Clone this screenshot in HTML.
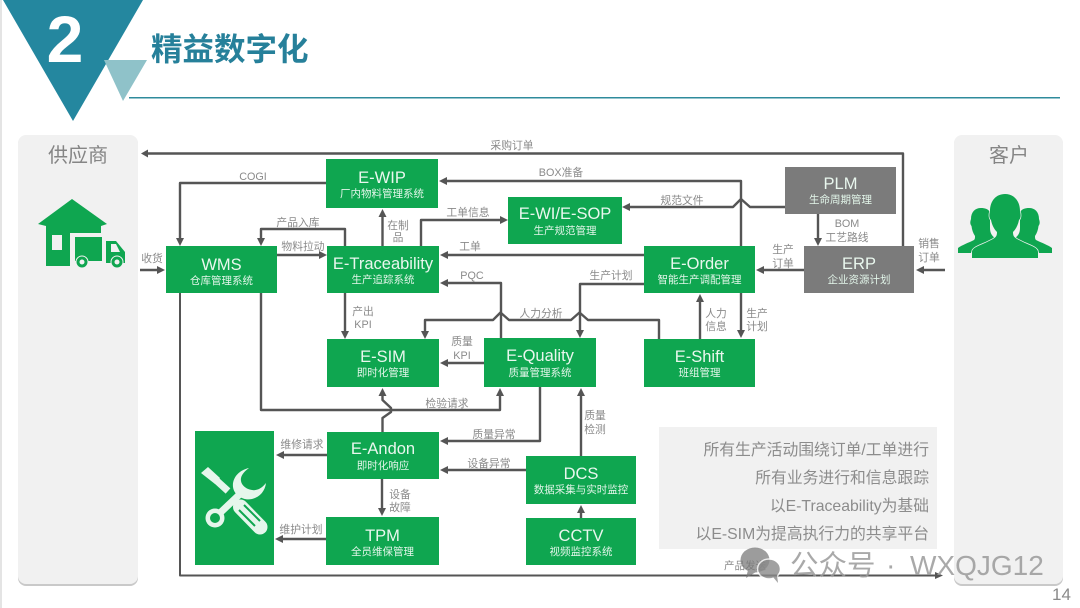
<!DOCTYPE html>
<html lang="zh"><head><meta charset="utf-8"><title>精益数字化</title>
<style>
html,body{margin:0;padding:0;background:#fff;width:1080px;height:608px;overflow:hidden}
svg{display:block;filter:blur(.35px)}
text{font-family:"Liberation Sans","Noto Sans CJK SC",sans-serif}
.t{fill:#e9f7ee;font-size:16.5px;text-anchor:middle}
.s{fill:#e2f5e9;font-size:10.5px;text-anchor:middle}
.l{fill:#8a8a8a;font-size:10.8px;text-anchor:middle}
.c{fill:none;stroke:#555;stroke-width:2.4;stroke-linejoin:round}
.n{fill:#0fa650}
.g{fill:#7b7b7b}
.a{fill:#555}
.note{fill:#8c8c8c;font-size:15.8px;text-anchor:end}
</style></head><body>
<svg width="1080" height="608" viewBox="0 0 1080 608" xmlns="http://www.w3.org/2000/svg">
<rect x="0" y="0" width="2" height="608" fill="#e4e4e4"/>
<!-- header -->
<polygon points="3,0 143,0 73,121" fill="#24879f"/>
<polygon points="104,60 147,60 123,101" fill="#8fc2c9"/>
<rect x="129" y="97" width="931" height="1.5" fill="#2f8b9c"/>
<text x="65" y="62" text-anchor="middle" font-size="66" font-weight="700" fill="#fff">2</text>
<text x="151" y="60" font-size="31.5" font-weight="700" fill="#26809a">精益数字化</text>
<!-- side panels -->
<rect x="18" y="136" width="120" height="450" rx="8" fill="#c9c9c9"/>
<rect x="18" y="135" width="120" height="449" rx="8" fill="#f1f1f1"/>
<rect x="954" y="136" width="109" height="450" rx="8" fill="#c9c9c9"/>
<rect x="954" y="135" width="109" height="449" rx="8" fill="#f1f1f1"/>
<text x="78" y="162" text-anchor="middle" font-size="20" fill="#858585">供应商</text>
<text x="1009" y="162" text-anchor="middle" font-size="20" fill="#858585">客户</text>
<!-- house/truck -->
<g fill="#0fa650">
<path d="M38 224L72 199L107 224L101 226V233H70V266H46V226Z"/>
<rect x="75" y="237" width="27" height="24"/>
<path d="M106 241H116L125 252V263H106Z"/>
<circle cx="82" cy="262" r="6" stroke="#f1f1f1" stroke-width="1"/>
<circle cx="117" cy="262" r="6" stroke="#f1f1f1" stroke-width="1"/>
</g>
<rect x="52" y="235" width="10" height="15" fill="#f1f1f1"/>
<circle cx="82" cy="262" r="2.5" fill="#f1f1f1"/><circle cx="117" cy="262" r="2.5" fill="#f1f1f1"/>
<polygon points="111,244 116,244 120,252 111,252" fill="#f1f1f1"/>
<!-- people -->
<g fill="#0fa650">
<path d="M958 253V248C962 245 968 243 974 240C975 239 975 238 975 236C973 233 972 230 971.500 226C970 224 970 222 971 219C971 212 975 208 981 208C985 208 988 209 990 212V228C990 233 992 236 995 238L983 244C975 248 972 250 971 253Z"/>
<path d="M1052 253V248C1048 245 1042 243 1036 240C1035 239 1035 238 1035 236C1037 233 1038 230 1038.500 226C1040 224 1040 222 1039 219C1039 212 1035 208 1029 208C1025 208 1022 209 1020 212V228C1020 233 1018 236 1015 238L1027 244C1035 248 1038 250 1039 253Z"/>
<path d="M972 258V252C972 248 978 246 985 243L993 239C996 237 997 236 997 232C994 229 992 225 991 220C989 218 989 215 990 211C990 201 996 194 1005 194C1014 194 1020 201 1020 211C1021 215 1021 218 1019 220C1018 225 1016 229 1013 232C1013 236 1014 237 1017 239L1025 243C1032 246 1038 248 1038 252V258Z" stroke="#f1f1f1" stroke-width="1.500" paint-order="stroke"/>
</g>
<!-- connectors -->
<g class="c">
<path d="M903 246V153.500H146"/>
<path d="M326 183H180V242"/>
<path d="M345 246V229H261V242"/>
<path d="M277 255H322"/>
<path d="M140 270H161"/>
<path d="M180 293V575.500H938" style="stroke-width:2"/>
<path d="M261 293V410H500V392"/>
<path d="M382.500 432V418L391 412V408L382.500 400V392"/>
<path d="M382.500 246V213"/>
<path d="M421 246V220H504"/>
<path d="M644 255H444"/>
<path d="M501 338V283H444"/>
<path d="M644 284H580V334"/>
<path d="M741 246V181H443"/>
<path d="M785 207H750L741 199L733 207H626"/>
<path d="M818 214V242"/>
<path d="M804 270H760"/>
<path d="M945 270H920"/>
<path d="M659 339V320H588L579.500 312.500L571 320H509L500.500 312.500L493 320H425V335"/>
<path d="M700 339V298"/>
<path d="M741 293V334"/>
<path d="M484 363H444"/>
<path d="M540 387V441H444"/>
<path d="M581 456V392"/>
<path d="M526 470H444"/>
<path d="M327 455H280"/>
<path d="M326 539H279"/>
<path d="M382 479V512"/>
<path d="M581 518V509"/>
</g>
<!-- arrowheads -->
<g class="a">
<polygon points="141,153.500 148,149.500 148,157.500"/>
<polygon points="180,246 176,238 184,238"/>
<polygon points="261,246 257,238 265,238"/>
<polygon points="327,255 319,251 319,259"/>
<polygon points="165,270 157,266 157,274"/>
<polygon points="943,575.500 935,572 935,579"/>
<polygon points="500,388 496,396 504,396"/>
<polygon points="382.500,388 378.500,396 386.500,396"/>
<polygon points="382.500,209 378.500,217 386.500,217"/>
<polygon points="508,220 500,216 500,224"/>
<polygon points="440,255 448,251 448,259"/>
<polygon points="440,283 448,279 448,287"/>
<polygon points="580,338 576,330 584,330"/>
<polygon points="439,181 447,177 447,185"/>
<polygon points="622,207 630,203 630,211"/>
<polygon points="818,246 814,238 822,238"/>
<polygon points="756,270 764,266 764,274"/>
<polygon points="916,270 924,266 924,274"/>
<polygon points="425,339 421,331 429,331"/>
<polygon points="700,294 696,302 704,302"/>
<polygon points="741,338 737,330 745,330"/>
<polygon points="345,339 341,331 349,331"/>
<polygon points="440,363 448,359 448,367"/>
<polygon points="440,441 448,437 448,445"/>
<polygon points="581,388 577,396 585,396"/>
<polygon points="440,470 448,466 448,474"/>
<polygon points="276,455 284,451 284,459"/>
<polygon points="275,539 283,535 283,543"/>
<polygon points="382,516 378,508 386,508"/>
<polygon points="581,505 577,513 585,513"/>
</g>
<path class="c" d="M345 293V335"/>
<!-- nodes -->
<rect class="n" x="166" y="246" width="111" height="47"/>
<text class="t" x="221.500" y="270">WMS</text><text class="s" x="221.500" y="284">仓库管理系统</text>
<rect class="n" x="326" y="159" width="112" height="49"/>
<text class="t" x="382" y="183">E-WIP</text><text class="s" x="382" y="197">厂内物料管理系统</text>
<rect class="n" x="508" y="197" width="114" height="47"/>
<text class="t" x="565" y="219">E-WI/E-SOP</text><text class="s" x="565" y="234">生产规范管理</text>
<rect class="n" x="327" y="246" width="112" height="47"/>
<text class="t" x="383" y="269">E-Traceability</text><text class="s" x="383" y="283">生产追踪系统</text>
<rect class="n" x="644" y="246" width="111" height="47"/>
<text class="t" x="699.500" y="269">E-Order</text><text class="s" x="699.500" y="283">智能生产调配管理</text>
<rect class="g" x="785" y="167" width="111" height="47"/>
<text class="t" x="840.500" y="189">PLM</text><text class="s" x="840.500" y="203">生命周期管理</text>
<rect class="g" x="804" y="246" width="110" height="47"/>
<text class="t" x="859" y="269">ERP</text><text class="s" x="859" y="283">企业资源计划</text>
<rect class="n" x="327" y="339" width="112" height="48"/>
<text class="t" x="383" y="362">E-SIM</text><text class="s" x="383" y="376">即时化管理</text>
<rect class="n" x="484" y="338" width="112" height="49"/>
<text class="t" x="540" y="361">E-Quality</text><text class="s" x="540" y="376">质量管理系统</text>
<rect class="n" x="644" y="339" width="111" height="48"/>
<text class="t" x="699.500" y="362">E-Shift</text><text class="s" x="699.500" y="376">班组管理</text>
<rect class="n" x="327" y="432" width="112" height="47"/>
<text class="t" x="383" y="454">E-Andon</text><text class="s" x="383" y="469">即时化响应</text>
<rect class="n" x="326" y="517" width="113" height="48"/>
<text class="t" x="382.500" y="541">TPM</text><text class="s" x="382.500" y="555">全员维保管理</text>
<rect class="n" x="526" y="456" width="110" height="48"/>
<text class="t" x="581" y="479">DCS</text><text class="s" x="581" y="493">数据采集与实时监控</text>
<rect class="n" x="526" y="518" width="110" height="47"/>
<text class="t" x="581" y="541">CCTV</text><text class="s" x="581" y="555">视频监控系统</text>
<!-- tools -->
<rect class="n" x="195" y="431" width="79" height="134"/>
<g fill="#e6f6ec" stroke="none">
<polygon points="201,473 208,467 220,478 215,484"/>
<path d="M217 481L228 491" stroke="#e6f6ec" stroke-width="7"/>
<path d="M249 468C239 470 232 478 233 487C234 495 243 501 252 499C260 497 265 491 266 483C262 488 257 491 252 490C245 489 240 484 241 478C242 474 245 471 249 468Z"/>
<path d="M221 512L240 494" stroke="#e6f6ec" stroke-width="7"/>
<circle cx="215" cy="518" r="9.500"/>
<path d="M240.500 507L260 527" stroke="#e6f6ec" stroke-width="15" stroke-linecap="round"/>
</g>
<circle cx="215" cy="518" r="5" fill="#0fa650"/>
<g stroke="#0fa650" stroke-width="2" fill="none"><path d="M239 510L255 526M244 505L260 521"/></g>
<!-- labels -->
<text class="l" x="512" y="149">采购订单</text>
<text class="l" x="253" y="180">COGI</text>
<text class="l" x="298" y="226">产品入库</text>
<text class="l" x="303" y="250">物料拉动</text>
<text class="l" x="152" y="262">收货</text>
<text class="l" x="398" y="229">在制</text><text class="l" x="398" y="241">品</text>
<text class="l" x="468" y="216">工单信息</text>
<text class="l" x="561" y="176">BOX准备</text>
<text class="l" x="470" y="250">工单</text>
<text class="l" x="472" y="279">PQC</text>
<text class="l" x="611" y="279">生产计划</text>
<text class="l" x="682" y="204">规范文件</text>
<text class="l" x="847" y="227">BOM</text><text class="l" x="847" y="241">工艺路线</text>
<text class="l" x="783" y="253">生产</text><text class="l" x="783" y="267">订单</text>
<text class="l" x="929" y="247">销售</text><text class="l" x="929" y="261">订单</text>
<text class="l" x="541" y="317">人力分析</text>
<text class="l" x="363" y="315">产出</text><text class="l" x="363" y="328">KPI</text>
<text class="l" x="462" y="345">质量</text><text class="l" x="462" y="359">KPI</text>
<text class="l" x="716" y="317">人力</text><text class="l" x="716" y="330">信息</text>
<text class="l" x="757" y="317">生产</text><text class="l" x="757" y="330">计划</text>
<text class="l" x="447" y="407">检验请求</text>
<text class="l" x="494" y="438">质量异常</text>
<text class="l" x="595" y="419">质量</text><text class="l" x="595" y="433">检测</text>
<text class="l" x="489" y="467">设备异常</text>
<text class="l" x="302" y="448">维修请求</text>
<text class="l" x="301" y="533">维护计划</text>
<text class="l" x="400" y="498">设备</text><text class="l" x="400" y="511">故障</text>
<!-- note -->
<rect x="659" y="427" width="278" height="122" fill="#f1f1f1"/>
<text class="note" x="929" y="455">所有生产活动围绕订单/工单进行</text>
<text class="note" x="929" y="483">所有业务进行和信息跟踪</text>
<text class="note" x="929" y="511">以E-Traceability为基础</text>
<text class="note" x="929" y="539">以E-SIM为提高执行力的共享平台</text>
<!-- watermark -->
<text x="745" y="569" font-size="10.5" text-anchor="middle" fill="#8a8a8a">产品发送</text>
<g fill="#777" opacity=".72">
<ellipse cx="755" cy="560" rx="14.500" ry="12.500"/>
<polygon points="748,570 746,578 756,572"/>
</g>
<g fill="#8a8a8a" opacity=".8">
<ellipse cx="769" cy="569" rx="11.500" ry="10" stroke="#fff" stroke-width="1.500"/>
<polygon points="773,577 778,583 777,575"/>
</g>
<text x="790" y="575" font-size="28.500" fill="#9a9a9a" fill-opacity=".85">公众号</text>
<text x="886" y="575" font-size="28.500" fill="#9a9a9a" fill-opacity=".85">·</text>
<text x="910" y="575" font-size="28" fill="#9a9a9a" fill-opacity=".85">WXQJG12</text>
<text x="1052" y="600" font-size="17" fill="#8a8a8a">14</text>
</svg>
</body></html>
